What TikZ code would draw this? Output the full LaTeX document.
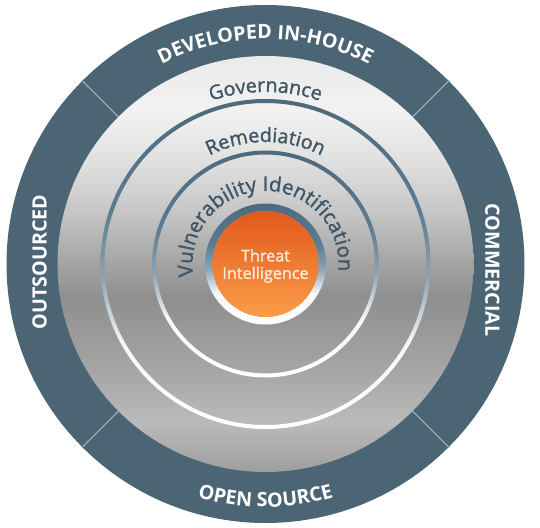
\documentclass[tikz,border=0pt]{standalone}
\usepackage{fontspec}
\setmainfont{Open Sans}
\newfontfamily\semibold{Open Sans}[FakeBold=1.4]
\usetikzlibrary{decorations.text}

\definecolor{ringblue}{RGB}{76,101,116}
\definecolor{slate}{RGB}{63,86,102}
\definecolor{divline}{RGB}{150,170,182}
\definecolor{ringedge}{RGB}{92,124,146}
\definecolor{corecream}{RGB}{253,236,222}
\definecolor{coretop}{RGB}{226,88,28}
\definecolor{coremid}{RGB}{243,120,34}
\definecolor{corebot}{RGB}{250,158,74}

\newcommand{\ringfont}{\fontsize{14}{16}\selectfont\bfseries}
\newcommand{\bandfont}{\semibold\fontsize{14}{16}\selectfont}
\newcommand{\vulnfont}{\semibold\fontsize{14.5}{17}\selectfont}
\newcommand{\corefont}{\semibold\fontsize{11.5}{12.4}\selectfont}

% brushed grey of the inner disk
\pgfdeclareverticalshading{metal}{100bp}{%
  color(0bp)=(black!38); color(25bp)=(black!38); color(31bp)=(black!27);
  color(38bp)=(black!36); color(46bp)=(black!44); color(50.5bp)=(black!35);
  color(56.5bp)=(black!22); color(62.5bp)=(black!12); color(68.5bp)=(black!5);
  color(75bp)=(black!8); color(100bp)=(black!8)}
% thin rings: blue on top, white below
\pgfdeclareverticalshading{ringline}{100bp}{%
  color(0bp)=(white); color(25bp)=(white); color(38bp)=(black!3);
  color(48bp)=(ringedge!70!white); color(58bp)=(ringedge); color(75bp)=(ringedge!85!black);
  color(100bp)=(ringedge!85!black)}

\begin{document}
\begin{tikzpicture}[
        x=0.025cm, y=0.025cm,
        ringlabel/.style = {text=white, font=\ringfont, inner sep=0pt},
        corelabel/.style = {text=corecream, font=\corefont, align=center, inner sep=0pt},
        divider/.style = {draw=divline, line width=0.8pt},
        arclabel/.style = {decorate, decoration={text along path, text align=center, text color=#1}},
        arclabel/.default = slate
        ]
        \useasboundingbox (-265.5,-263) rectangle (274.5,264);
%
        \fill[ringblue] (0,0) circle (259);
        \foreach \a in {45,135,225,315}
            \draw[divider] (\a:207) -- (\a:260);
        \shade[shading=metal] (0,0) circle (208);
%
        \shade[shading=ringline, even odd rule] (0,0) circle (165) circle (161);
        \shade[shading=ringline, even odd rule] (0,0) circle (113.5) circle (109.5);
%
        \shade[shading=ringline, even odd rule] (0,0) circle (60.5) circle (53);
        \shade[top color=coretop, middle color=coremid, bottom color=corebot] (0,0) circle (53);
        \node[corelabel] (core) at (0,-2) {Threat\\Intelligence};
%
        \path[arclabel=white, decoration={text={|\ringfont|DEVELOPED IN-HOUSE}}]
            (160:225) arc[start angle=160, end angle=20, radius=225];
        \path[arclabel=white, decoration={text={|\ringfont|OPEN SOURCE}}]
            (200:243) arc[start angle=200, end angle=340, radius=243];
        \node[ringlabel, rotate=90] (outsourced) at (-226,2) {OUTSOURCED};
        \node[ringlabel, rotate=-90] (commercial) at (227,-6) {COMMERCIAL};
%
        \path[arclabel, decoration={text={|\bandfont|Governance}}]
            (150:172) arc[start angle=150, end angle=30, radius=172];
        \path[arclabel, decoration={text={|\bandfont|Remediation}}]
            (150:122) arc[start angle=150, end angle=30, radius=122];
        \path[arclabel, decoration={text={|\vulnfont|Vulnerability Identification}}]
            (212:73) arc[start angle=212, end angle=-28, radius=73];
\end{tikzpicture}
\end{document}
